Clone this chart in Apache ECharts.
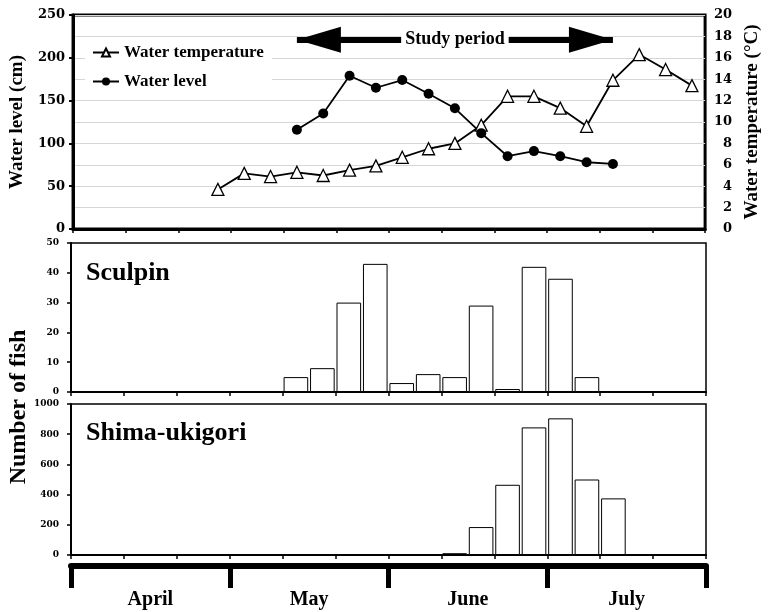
<!DOCTYPE html>
<html><head><meta charset="utf-8">
<script src="https://cdn.jsdelivr.net/npm/echarts@6/dist/echarts.min.js"></script>
<style>html,body{margin:0;padding:0;background:#fff}#c{width:770px;height:612px}</style>
</head><body><div id="c"></div>
<script>
// 5-day periods, April to July
const periods = ['Apr 1-5','Apr 6-10','Apr 11-15','Apr 16-20','Apr 21-25','Apr 26-30',
  'May 1-5','May 6-10','May 11-15','May 16-20','May 21-25','May 26-31',
  'Jun 1-5','Jun 6-10','Jun 11-15','Jun 16-20','Jun 21-25','Jun 26-30',
  'Jul 1-5','Jul 6-10','Jul 11-15','Jul 16-20','Jul 21-25','Jul 26-31'];
const months = ['April','May','June','July'];
const waterTemp = ['-','-','-','-','-',3.7,5.2,4.9,5.3,5.0,5.5,5.9,6.7,7.5,8.0,9.7,12.4,12.4,11.3,9.6,13.9,16.3,14.9,13.4];
const waterLevel = ['-','-','-','-','-','-','-','-',116,135,179,165,174,158,141,112,85,91,85,78,76,'-','-','-'];
const sculpin = ['-','-','-','-','-','-','-','-',5,8,30,43,3,6,5,29,1,42,38,5,'-','-','-','-'];
const shimaUkigori = ['-','-','-','-','-','-','-','-','-','-','-',2,0,3,12,185,465,845,905,500,375,'-','-','-'];
const studyPeriod = ['May 11-15','Jul 11-15'];
const studyArrowLevel = 221;

const TXT = 'Liberation Serif';
const NUM = 'DejaVu Serif';

function catAxis(gi, lw) {
  return {
    type: 'category', gridIndex: gi, data: periods, boundaryGap: true,
    axisLine: { show: true, lineStyle: { color: '#000', width: lw } },
    axisTick: { show: true, interval: 1, length: 4, lineStyle: { color: '#000', width: 1.5 } },
    axisLabel: { show: false }, splitLine: { show: false }
  };
}
function numLabel(size, margin) {
  return { fontFamily: NUM, fontWeight: 'bold', fontSize: size, color: '#000', margin: margin,
    formatter: function (v) { return String(v); } };
}

const chart = echarts.init(document.getElementById('c'));
chart.setOption({
  animation: false,
  backgroundColor: '#fff',
  title: [
    { text: 'Sculpin', left: 86, top: 260, padding: 0,
      textStyle: { fontFamily: TXT, fontWeight: 'bold', fontSize: 26, color: '#000' } },
    { text: 'Shima-ukigori', left: 86, top: 420, padding: 0,
      textStyle: { fontFamily: TXT, fontWeight: 'bold', fontSize: 26, color: '#000' } }
  ],
  legend: {
    data: ['Water temperature', 'Water level'],
    orient: 'vertical', left: 85, top: 40,
    itemWidth: 26, itemHeight: 10, itemGap: 12,
    padding: [4, 8, 4, 7], backgroundColor: '#fff',
    textStyle: { fontFamily: TXT, fontWeight: 'bold', fontSize: 17, color: '#000' }
  },
  grid: [
    { left: 71, right: 64, top: 15, height: 214, show: true, borderColor: '#000', borderWidth: 3 },
    { left: 71, right: 64, top: 243, height: 149, show: true, borderColor: '#000', borderWidth: 1.5 },
    { left: 71, right: 64, top: 404, height: 151, show: true, borderColor: '#000', borderWidth: 1.5 },
    { left: 71, right: 64, top: 564, height: 2 }
  ],
  xAxis: [
    catAxis(0, 3), catAxis(1, 2), catAxis(2, 2),
    { type: 'category', gridIndex: 3, data: months, boundaryGap: true,
      axisLine: { show: true, lineStyle: { color: '#000', width: 6 } },
      axisTick: { show: true, interval: 0, length: 22, lineStyle: { color: '#000', width: 5 } },
      axisLabel: { interval: 0, margin: 24, fontFamily: TXT, fontWeight: 'bold', fontSize: 20, color: '#000' },
      splitLine: { show: false } }
  ],
  yAxis: [
    { type: 'value', gridIndex: 0, min: 0, max: 250, interval: 50, position: 'left',
      axisLine: { show: true, lineStyle: { color: '#000', width: 3 } },
      axisTick: { show: true, length: 4, lineStyle: { color: '#000', width: 2 } },
      axisLabel: numLabel(13, 8),
      splitLine: { show: true, lineStyle: { color: '#d6d6d6', width: 1 } },
      minorTick: { show: false, splitNumber: 2 },
      minorSplitLine: { show: true, lineStyle: { color: '#d6d6d6', width: 1 } },
      name: 'Water level (cm)', nameLocation: 'middle', nameRotate: 90, nameGap: 36,
      nameTextStyle: { fontFamily: TXT, fontWeight: 'bold', fontSize: 19, color: '#000' } },
    { type: 'value', gridIndex: 0, min: 0, max: 20, interval: 2, position: 'right',
      axisLine: { show: false }, axisTick: { show: false },
      axisLabel: Object.assign(numLabel(13, 27), { align: 'right' }),
      splitLine: { show: false },
      name: 'Water temperature (°C)', nameLocation: 'middle', nameRotate: 90, nameGap: 32,
      nameTextStyle: { fontFamily: TXT, fontWeight: 'bold', fontSize: 19, color: '#000' } },
    { type: 'value', gridIndex: 1, min: 0, max: 50, interval: 10,
      axisLine: { show: true, lineStyle: { color: '#000', width: 2 } },
      axisTick: { show: true, length: 4, lineStyle: { color: '#000', width: 1.5 } },
      axisLabel: numLabel(9, 12), splitLine: { show: false } },
    { type: 'value', gridIndex: 2, min: 0, max: 1000, interval: 200,
      axisLine: { show: true, lineStyle: { color: '#000', width: 2 } },
      axisTick: { show: true, length: 4, lineStyle: { color: '#000', width: 1.5 } },
      axisLabel: numLabel(9, 12), splitLine: { show: false } },
    { type: 'value', gridIndex: 3, min: 0, max: 1, show: false }
  ],
  graphic: [
    { type: 'text', x: 19, y: 407, rotation: Math.PI / 2,
      style: { text: 'Number of fish', align: 'center', verticalAlign: 'middle',
        font: 'bold 24px "Liberation Serif"', fill: '#000' } }
  ],
  series: [
    { name: 'Water temperature', type: 'line', xAxisIndex: 0, yAxisIndex: 1, data: waterTemp,
      symbol: 'triangle', symbolSize: 12,
      itemStyle: { color: '#fff', borderColor: '#000', borderWidth: 1.3 },
      lineStyle: { color: '#000', width: 1.8 }, z: 3 },
    { name: 'Water level', type: 'line', xAxisIndex: 0, yAxisIndex: 0, data: waterLevel,
      symbol: 'circle', symbolSize: 10,
      itemStyle: { color: '#000' }, lineStyle: { color: '#000', width: 1.8 }, z: 3,
      markLine: {
        silent: true, symbol: ['triangle', 'triangle'], symbolSize: [26, 44],
        symbolOffset: [[0, 22], [0, 22]],
        lineStyle: { color: '#000', width: 6, type: 'solid' },
        label: { show: true, position: 'insideMiddle', distance: 0, formatter: 'Study period',
          fontFamily: TXT, fontWeight: 'bold', fontSize: 18, color: '#000',
          backgroundColor: '#fff', padding: [1, 4] },
        data: [[{ coord: [studyPeriod[0], studyArrowLevel] }, { coord: [studyPeriod[1], studyArrowLevel] }]]
      } },
    { name: 'Sculpin', type: 'bar', xAxisIndex: 1, yAxisIndex: 2, data: sculpin, barCategoryGap: '7%',
      itemStyle: { color: '#fff', borderColor: '#000', borderWidth: 1 } },
    { name: 'Shima-ukigori', type: 'bar', xAxisIndex: 2, yAxisIndex: 3, data: shimaUkigori, barCategoryGap: '7%',
      itemStyle: { color: '#fff', borderColor: '#000', borderWidth: 1 } }
  ]
});
</script></body></html>
